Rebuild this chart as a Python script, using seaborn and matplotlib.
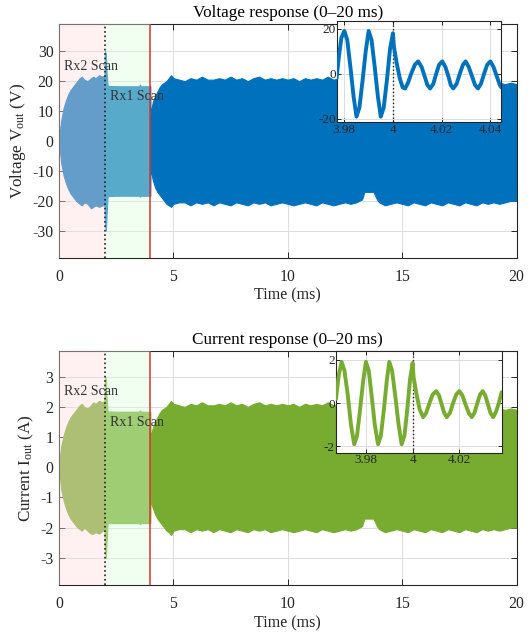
import numpy as np
import pandas as pd
import matplotlib
matplotlib.use("Agg")
import matplotlib.pyplot as plt
import seaborn as sns

# envelope of the dense 100 kHz signal (ms)
t_env = [0, 0.05, 0.1, 0.2, 0.3, 0.4, 0.5, 0.6, 0.75, 0.9, 1.0, 1.1, 1.25, 1.4, 1.5, 1.6, 1.75, 1.9, 1.99,
         2.01, 2.05, 2.08, 2.12, 2.14, 2.5, 3.0, 3.5, 3.54, 3.58, 3.99,
         4.0, 4.1, 4.2, 4.3, 4.4, 4.5, 4.6, 4.7, 4.8, 4.9, 5.0, 5.25, 5.5, 5.75, 6.0, 6.25, 6.5, 6.75,
         7.0, 7.25, 7.5, 7.75, 8.0, 8.25, 8.5, 8.75, 9.0, 9.25, 9.5, 9.75, 10.0, 10.25, 10.5, 10.75,
         11.0, 11.25, 11.5, 11.75, 12.0, 12.25, 12.5, 12.75, 13.0, 13.25, 13.35, 13.75, 13.9, 14.0,
         14.25, 14.5, 14.75, 15.0, 15.25, 15.5, 15.75, 16.0, 16.25, 16.5, 16.75, 17.0, 17.25, 17.5,
         17.75, 18.0, 18.25, 18.5, 18.75, 19.0, 19.25, 19.5, 19.75, 20.0]

v_upper = [0.5, 4, 7, 11, 13.5, 15.5, 17, 18, 19.5, 21, 21.5, 20.5, 20, 21, 21.5, 21, 22, 21.5, 22,
           30, 29, 23, 19, 18.4, 18.3, 18.3, 18.3, 18.8, 18.3, 18.3,
           9, 13, 15, 16.5, 18, 19, 19.5, 20, 21, 22, 21, 20.5, 20, 21, 20.5, 21.5, 20.5, 20.5,
           21, 20.5, 21.5, 20.5, 21, 20, 21, 21.5, 20.5, 21, 20.5, 21, 20.5, 21, 20, 21,
           20.5, 21, 20.5, 21.5, 20.5, 21, 20.5, 21, 20.5, 20, 19, 19, 20, 20.5,
           21, 20.5, 21, 21, 20.5, 21, 20.5, 21, 20.5, 21, 20.5, 21, 20.5, 21,
           20.5, 21, 20, 20.5, 20, 20.5, 19.5, 19, 19.5, 19]
v_lower = [-0.5, -4, -7.5, -11.5, -14, -16, -17.5, -18.5, -20, -21, -21.5, -20.5, -21, -22.5, -22, -21.5, -22, -21.5, -21.5,
           -28, -30, -25, -19, -18.4, -18.3, -18.3, -18.3, -18.6, -18.3, -18.3,
           -9, -13, -15.5, -17, -18, -19, -20, -21, -21.5, -22, -21, -20.5, -20.5, -21.5, -20.5, -21, -20.5, -21.5,
           -20.5, -21, -21.5, -20.5, -21, -21.5, -20.5, -21, -20.5, -21.5, -21, -20.5, -21, -21.5, -21, -20.5,
           -21, -21.5, -20.5, -21, -21.5, -21, -20.5, -21, -20.5, -19.5, -17, -17, -19.5, -20.5,
           -21.5, -21, -20.5, -21, -21.5, -20.5, -21, -21.5, -20.5, -21, -21.5, -20.5, -21, -21.5,
           -20.5, -21, -21.5, -20.5, -21, -20.5, -21, -20.5, -20, -20]

i_upper = [0.05, 0.4, 0.7, 1.05, 1.3, 1.5, 1.65, 1.75, 1.9, 2.05, 2.1, 2.0, 1.95, 2.05, 2.15, 2.1, 2.2, 2.15, 2.2,
           3.0, 2.9, 2.3, 1.9, 1.85, 1.84, 1.84, 1.84, 1.88, 1.84, 1.84,
           1.0, 1.3, 1.5, 1.65, 1.8, 1.9, 1.95, 2.0, 2.1, 2.2, 2.1, 2.05, 2.0, 2.1, 2.05, 2.15, 2.05, 2.05,
           2.1, 2.05, 2.15, 2.05, 2.1, 2.0, 2.1, 2.15, 2.05, 2.1, 2.05, 2.1, 2.05, 2.1, 2.0, 2.1,
           2.05, 2.1, 2.05, 2.15, 2.05, 2.1, 2.05, 2.1, 2.05, 2.0, 1.9, 1.9, 2.0, 2.05,
           2.1, 2.05, 2.1, 2.1, 2.05, 2.1, 2.05, 2.1, 2.05, 2.1, 2.05, 2.1, 2.05, 2.1,
           2.05, 2.1, 2.0, 2.05, 2.0, 2.0, 1.95, 1.9, 1.95, 1.9]
i_lower = [-0.05, -0.4, -0.75, -1.1, -1.35, -1.55, -1.7, -1.8, -1.95, -2.05, -2.1, -2.0, -2.1, -2.2, -2.2, -2.15, -2.2, -2.1, -2.1,
           -2.8, -3.0, -2.5, -1.9, -1.85, -1.85, -1.85, -1.85, -1.88, -1.85, -1.85,
           -1.1, -1.35, -1.55, -1.7, -1.8, -1.9, -2.0, -2.1, -2.15, -2.25, -2.1, -2.05, -2.05, -2.15, -2.05, -2.1, -2.05, -2.15,
           -2.05, -2.1, -2.15, -2.05, -2.1, -2.15, -2.05, -2.1, -2.05, -2.15, -2.1, -2.05, -2.1, -2.15, -2.1, -2.05,
           -2.1, -2.15, -2.05, -2.1, -2.15, -2.1, -2.05, -2.1, -2.05, -1.95, -1.7, -1.7, -1.95, -2.05,
           -2.15, -2.1, -2.05, -2.1, -2.15, -2.05, -2.1, -2.15, -2.05, -2.1, -2.15, -2.05, -2.1, -2.15,
           -2.05, -2.1, -2.15, -2.05, -2.1, -2.05, -2.1, -2.05, -2.0, -2.0]

# zoomed waveform around the switch at 4 ms
tv_zoom = [3.9768, 3.9778, 3.9788, 3.9800, 3.9812, 3.9825, 3.9838, 3.9850, 3.9862, 3.9875, 3.9888, 3.9900,
           3.9912, 3.9925, 3.9938, 3.9950, 3.9962, 3.9975, 3.9988, 4.0000, 4.0004, 4.0015, 4.0028, 4.0040,
           4.0050, 4.0062, 4.0075, 4.0090, 4.0104, 4.0118, 4.0130, 4.0142, 4.0153, 4.0166, 4.0178, 4.0190,
           4.0203, 4.0216, 4.0228, 4.0238, 4.0248, 4.0262, 4.0275, 4.0288, 4.0299, 4.0312, 4.0325, 4.0338,
           4.0350, 4.0362, 4.0375, 4.0388, 4.0401, 4.0414, 4.0427, 4.0440, 4.0446]
v_zoom = [-2, 8, 16, 19, 15, 3, -10, -19, -15, -3, 10, 19,
          15, 3, -10, -19, -15, -3, 11, 18, 12, 5, -2, -6,
          -6.5, -4, 0, 4, 5.5, 3, -1, -5, -6.5, -4.5, 0, 4,
          5.5, 3, -1, -5, -6.5, -4.5, 0, 4, 5.5, 3, -1, -5,
          -6.5, -4.5, 0, 4, 5.5, 3, -1, -5, -6]

ti_zoom = [3.9672, 3.9684, 3.9696, 3.9708, 3.9722, 3.9736, 3.9750, 3.9762, 3.9775, 3.9788, 3.9800, 3.9812,
           3.9825, 3.9838, 3.9852, 3.9864, 3.9877, 3.9889, 3.9900, 3.9912, 3.9926, 3.9940, 3.9953, 3.9965,
           3.9977, 3.9989, 4.0000, 4.0004, 4.0015, 4.0030, 4.0045, 4.0058, 4.0072, 4.0086, 4.0101, 4.0113,
           4.0124, 4.0135, 4.0146, 4.0160, 4.0173, 4.0187, 4.0200, 4.0213, 4.0226, 4.0240, 4.0253, 4.0265,
           4.0277, 4.0289, 4.0300, 4.0311, 4.0322, 4.0333, 4.0345, 4.0357, 4.0369, 4.0381]
i_zoom = [0.2, 1.3, 1.9, 1.5, 0.4, -1.0, -1.9, -1.5, -0.3, 1.0, 1.9, 1.5,
          0.3, -1.0, -1.9, -1.5, -0.3, 1.0, 1.9, 1.5, 0.3, -1.0, -1.9, -1.5,
          -0.3, 1.1, 1.85, 1.2, 0.5, -0.3, -0.65, -0.45, 0, 0.4, 0.55, 0.35,
          -0.05, -0.45, -0.65, -0.45, 0, 0.4, 0.55, 0.35, -0.05, -0.45, -0.65, -0.45,
          0, 0.4, 0.55, 0.35, -0.05, -0.45, -0.65, -0.4, 0, 0.5]

BLUE = '#0072BD'
GREEN = '#77AC30'
PINK = '#ffdede'
MINT = '#dcffdc'
RED = '#d9352a'
TXT = '#262626'

sns.set_theme(style='ticks')
plt.rcParams['font.family'] = ['Liberation Serif', 'DejaVu Serif']
plt.rcParams['axes.unicode_minus'] = False
plt.rcParams['mathtext.fontset'] = 'custom'
plt.rcParams['mathtext.rm'] = 'Liberation Serif'
plt.rcParams['mathtext.it'] = 'Liberation Serif'


def style_axes(ax, labelsize):
    ax.tick_params(direction='in', top=True, right=True, length=4, width=0.7,
                   labelsize=labelsize, colors=TXT, pad=4)
    ax.grid(True, color='#dcdcdc', lw=0.7)
    for sp in ax.spines.values():
        sp.set_color(TXT)
        sp.set_linewidth(0.8)


def main_panel(ax, upper, lower, color, ylim, yticks, ylabel, title, rx2_y, rx1_y):
    ax.fill_between(t_env, lower, upper, color=color, lw=0.8, edgecolor=color, zorder=2)
    ax.axvspan(0, 2, color=PINK, alpha=0.4, lw=0, zorder=3)
    ax.axvspan(2, 4, color=MINT, alpha=0.4, lw=0, zorder=3)
    ax.axvline(2, color='#222222', ls=':', lw=1.2, zorder=4)
    ax.axvline(4, color=RED, lw=1.1, zorder=4)
    ax.text(0.22, rx2_y, 'Rx2 Scan', fontsize=10, color='#333333', va='center', zorder=5)
    ax.text(2.23, rx1_y, 'Rx1 Scan', fontsize=10, color='#333333', va='center', zorder=5)
    ax.set_xlim(0, 20)
    ax.set_ylim(*ylim)
    ax.set_xticks([0, 5, 10, 15, 20])
    ax.set_yticks(yticks)
    style_axes(ax, 11.3)
    ax.tick_params(axis='x', pad=8)
    ax.set_xlabel('Time (ms)', fontsize=11.5, color=TXT, labelpad=2)
    ax.set_ylabel(ylabel, fontsize=12.3, color=TXT, labelpad=3)
    ax.set_title(title, fontsize=12.3, color='black', pad=5)


def inset_panel(ax, t, y, color, xlim, ylim, xticks, yticks):
    df = pd.DataFrame({'t': t, 'y': y})
    sns.lineplot(data=df, x='t', y='y', ax=ax, color=color, lw=2.8, zorder=3)
    ax.axvline(4, color='#222222', ls=':', lw=1.0, zorder=2)
    ax.set_facecolor('white')
    ax.set_xlim(*xlim)
    ax.set_ylim(*ylim)
    ax.set_xticks(xticks)
    ax.set_yticks(yticks)
    ax.set_xticklabels([f'{v:g}' for v in xticks])
    ax.set_xlabel('')
    ax.set_ylabel('')
    style_axes(ax, 9.5)
    ax.tick_params(pad=1, length=3)


fig = plt.figure(figsize=(5.31, 6.33), dpi=100)

ax1 = fig.add_axes([0.1111, 0.5929, 0.8616, 0.3687])
main_panel(ax1, v_upper, v_lower, BLUE, (-39, 39), [-30, -20, -10, 0, 10, 20, 30],
           r'Voltage V$_{\rm out}$ (V)', 'Voltage response (0\u201320 ms)', 25, 14.8)

ax2 = fig.add_axes([0.1111, 0.0758, 0.8616, 0.3697])
main_panel(ax2, i_upper, i_lower, GREEN, (-3.9, 3.85), [-3, -2, -1, 0, 1, 2, 3],
           r'Current I$_{\rm out}$ (A)', 'Current response (0\u201320 ms)', 2.5, 1.48)

ins1 = fig.add_axes([0.6352, 0.8068, 0.3089, 0.160])
inset_panel(ins1, tv_zoom, v_zoom, BLUE, (3.9771, 4.0446), (-21.5, 23.4),
            [3.98, 4.0, 4.02, 4.04], [-20, 0, 20])

ins2 = fig.add_axes([0.6328, 0.2844, 0.3132, 0.1611])
inset_panel(ins2, ti_zoom, i_zoom, GREEN, (3.9672, 4.0384), (-2.3, 2.4),
            [3.98, 4.0, 4.02], [-2, 0, 2])

fig.savefig('out.png', dpi=100)
